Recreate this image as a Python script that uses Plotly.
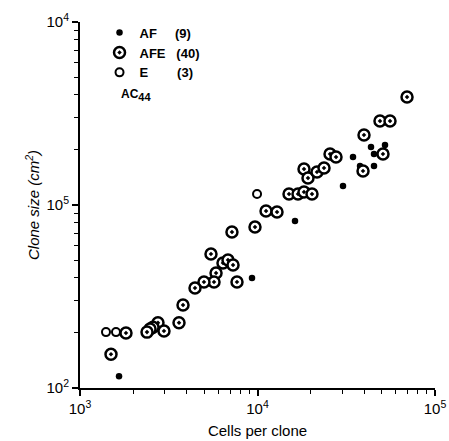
import plotly.graph_objects as go

# AF (filled dots)
af_cells = [1659, 9310, 16270, 30320, 34510, 37810, 43590, 45330, 45330, 52280]
af_size = [116, 399, 818, 1270, 1829, 1634, 2075, 1900, 1634, 2128]

# AFE (bullseye)
afe_cells = [69570, 48980, 55790, 39810, 50930, 39310, 25620, 27690, 18280, 19250,
             21640, 23700, 15050, 16910, 18280, 20280, 11170, 12880, 9680, 7180,
             5470, 6390, 6820, 7280, 5840, 5690, 4995, 4445, 7665, 3805,
             3612, 2750, 2578, 2480, 2385, 2973, 1816, 1495]
afe_size = [3892, 2877, 2877, 2413, 1900, 1534, 1900, 1829, 1573, 1404,
            1515, 1593, 1148, 1148, 1178, 1148, 927, 915, 758, 712,
            540, 482, 501, 470, 425, 380, 380, 352, 380, 284,
            227, 227, 215, 210, 202, 205, 200, 153]

# E (open circles)
e_cells = [1401, 1595, 9940]
e_size = [202, 202, 1148]

NB = "\u00a0"
legend_names = ["AF" + NB * 5 + "(9)", "AFE" + NB * 3 + "(40)", "E" + NB * 8 + "(3)"]
x_tickvals = [1e3, 1e4, 1e5]
x_ticktext = ["10<sup>3</sup>", "10<sup>4</sup>", "10<sup>5</sup>"]
x_minor = [2e3, 3e3, 4e3, 5e3, 6e3, 7e3, 8e3, 9e3, 2e4, 3e4, 4e4, 5e4, 6e4, 7e4, 8e4, 9e4]
y_tickvals = [1e2, 1e3, 1e4]
y_ticktext = ["10<sup>2</sup>", "10<sup>5</sup>", "10<sup>4</sup>"]
y_minor = [200, 300, 400, 500, 600, 700, 800, 900, 2000, 3000, 4000, 5000, 6000, 7000, 8000, 9000]

FONT = "Liberation Sans"

fig = go.Figure()
fig.add_trace(go.Scatter(x=af_cells, y=af_size, mode="markers", name=legend_names[0],
                         marker=dict(symbol="circle", size=6.5, color="black", line=dict(width=0))))
fig.add_trace(go.Scatter(x=afe_cells, y=afe_size, mode="markers", name=legend_names[1],
                         marker=dict(symbol="circle-dot", size=11, color="white",
                                     line=dict(width=2.5, color="black"))))
fig.add_trace(go.Scatter(x=e_cells, y=e_size, mode="markers", name=legend_names[2],
                         marker=dict(symbol="circle", size=8, color="white",
                                     line=dict(width=2, color="black"))))

axis_common = dict(
    type="log", showgrid=False, zeroline=False, showline=True, linecolor="black",
    linewidth=2, ticks="outside", ticklen=6, tickwidth=1.5, tickcolor="black",
    tickfont=dict(family=FONT, size=15, color="black"), ticklabeloverflow="allow",
)

fig.update_layout(
    template="none",
    width=449, height=441,
    margin=dict(l=80, r=14, t=22, b=53),
    paper_bgcolor="white", plot_bgcolor="white",
    font=dict(family=FONT, color="black"),
    xaxis=dict(**axis_common, range=[3, 5], tickmode="array", tickvals=x_tickvals, ticktext=x_ticktext,
               minor=dict(ticks="outside", ticklen=4, tickwidth=1.2, tickcolor="black",
                          tickmode="array", tickvals=x_minor, showgrid=False),
               title=dict(text="Cells per clone", font=dict(family=FONT, size=15, color="black"), standoff=9)),
    yaxis=dict(**axis_common, range=[2, 4], tickmode="array", tickvals=y_tickvals, ticktext=y_ticktext,
               minor=dict(ticks="outside", ticklen=4, tickwidth=1.2, tickcolor="black",
                          tickmode="array", tickvals=y_minor, showgrid=False),
               title=dict(text="<i>Clone size (cm<sup>2</sup>)</i>", font=dict(family=FONT, size=15, color="black"), standoff=3)),
    legend=dict(x=0.055, y=1.012, xanchor="left", yanchor="top", bgcolor="rgba(0,0,0,0)",
                font=dict(family=FONT, size=13, color="black", weight="bold"),
                tracegroupgap=0, itemsizing="trace"),
    showlegend=True,
)

fig.add_annotation(xref="paper", yref="paper", x=0.11, y=0.80, xanchor="left", yanchor="middle",
                   text="AC<sub><span style='font-size:11px'>44</span></sub>", showarrow=False,
                   font=dict(family=FONT, size=12, color="black", weight="bold"))

fig.write_html("out.html", config={"displayModeBar": False},
               post_script="document.body.style.margin='0';document.body.style.overflow='hidden';")
